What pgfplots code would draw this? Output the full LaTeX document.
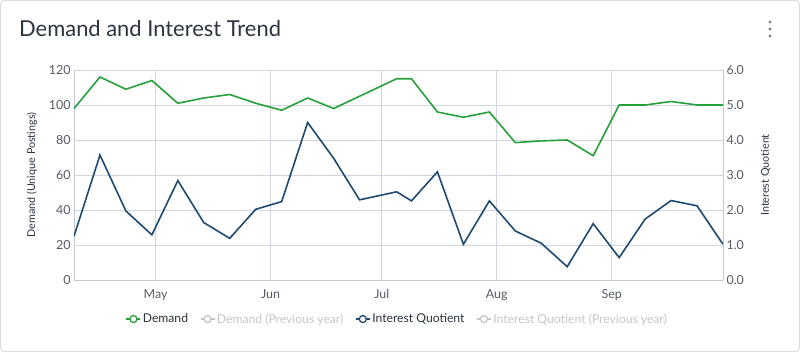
\documentclass[border=0pt]{standalone}
\usepackage{fontspec}
\setmainfont{Lato}
\usepackage{pgfplots}
\pgfplotsset{compat=1.18}
\usepackage{pgfplotstable}

\definecolor{demand}{HTML}{28A039}
\definecolor{iq}{HTML}{1E4A72}
\definecolor{gridc}{HTML}{D2D6E0}
\definecolor{axisc}{HTML}{C3C8D2}
\definecolor{tickc}{HTML}{555B66}
\definecolor{titlec}{HTML}{2B3340}
\definecolor{faded}{HTML}{C6C6C6}

% day = days from May 1, weekly samples
\pgfplotstableread{
day demand
-22 98
-15 116
-8 109
-1 114
6 101
13 104
20 106
27 101
34 97
41 104
48 98
55 105
65 115
69 115
76 96
83 93
90 96
97 78.5
104 79.5
111 80
118 71
125 100
132 100
139 102
146 100
153 100
}\demandtab

\pgfplotstableread{
day iq
-22 1.25
-15 3.57
-8 1.97
-1 1.29
6 2.84
13 1.64
20 1.19
27 2.02
34 2.24
41 4.50
48 3.48
55 2.29
65 2.52
69 2.26
76 3.09
83 1.02
90 2.26
97 1.40
104 1.05
111 0.38
118 1.61
125 0.64
132 1.74
139 2.27
146 2.12
153 1.02
}\iqtab

\pgfplotsset{
  common/.style={
    at={(74bp,72bp)}, anchor=south west,
    scale only axis, width=649bp, height=210bp,
    xmin=-22, xmax=153,
    major tick length=0,
    axis line style={axisc, line width=0.9bp},
    tick label style={font=\fontsize{12.5}{14}\selectfont, text=tickc},
    /pgf/number format/assume math mode=true,
  },
  legimg/.style={line width=1.3bp, mark=*, mark size=3.5bp, mark options={fill=white, solid}},
}

\begin{document}
\begin{tikzpicture}
\path[use as bounding box] (0bp,0bp) rectangle (800bp,352bp);
\draw[draw=black!13, line width=1bp, rounded corners=4bp] (0.5bp,0.5bp) rectangle (799.5bp,351.5bp);
\node[anchor=west, font=\fontsize{22}{24}\selectfont, text=titlec, inner sep=0] at (19bp,323bp) {Demand and Interest Trend};
\foreach \yy in {316,323,330} \fill[black!50] (770bp,\yy bp) circle (1.7bp);

\begin{axis}[common,
  ymin=0, ymax=120,
  xtick={0,31,61,92,123}, xticklabels={May,Jun,Jul,Aug,Sep},
  xticklabel style={yshift=-6bp},
  ytick={0,20,...,120},
  axis y line*=left, axis x line*=bottom,
  grid=major, major grid style={gridc, line width=0.9bp},
  ylabel={Demand (Unique Postings)},
  ylabel style={font=\fontsize{10.8}{12}\selectfont, text=titlec, at={(axis description cs:-0.065,0.5)}, anchor=center},
]
\addplot[demand, line width=1.6bp, forget plot] table[x=day, y=demand] {\demandtab};
\end{axis}

\begin{axis}[common,
  ymin=0, ymax=6,
  axis y line*=right, axis x line=none,
  xtick=\empty,
  ytick={0,1,...,6},
  yticklabel style={/pgf/number format/.cd, fixed, fixed zerofill, precision=1},
  ylabel={Interest Quotient},
  ylabel style={font=\fontsize{10.8}{12}\selectfont, text=titlec, at={(axis description cs:1.066,0.5)}, anchor=center},
  legend style={at={(0.498,-0.186)}, anchor=center, draw=none, fill=none,
    font=\fontsize{12.2}{14}\selectfont, text=titlec,
    /tikz/every even column/.append style={column sep=10bp},
    nodes={inner sep=1.8bp}},
  legend columns=4,
  legend cell align=left,
  legend image code/.code={\draw[mark repeat=2, mark phase=2, #1] plot coordinates {(0bp,0bp) (7bp,0bp) (14bp,0bp)};},
]
\addlegendimage{demand, legimg}
\addlegendentry{Demand}
\addlegendimage{faded, legimg}
\addlegendentry{\textcolor{faded}{Demand (Previous year)}}
\addlegendimage{iq, legimg}
\addlegendentry{Interest Quotient}
\addlegendimage{faded, legimg}
\addlegendentry{\textcolor{faded}{Interest Quotient (Previous year)}}
\addplot[iq, line width=1.6bp, forget plot] table[x=day, y=iq] {\iqtab};
\end{axis}
\end{tikzpicture}
\end{document}
